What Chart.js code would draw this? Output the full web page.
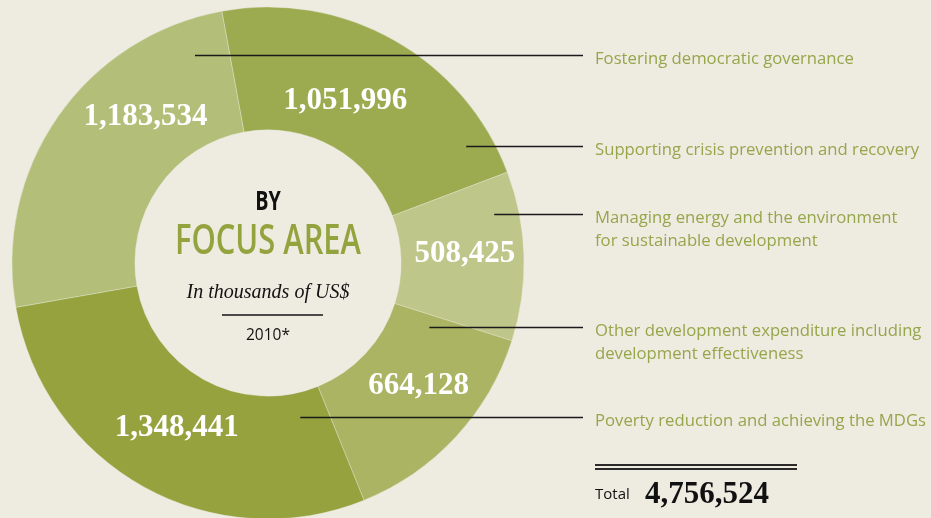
<!DOCTYPE html>
<html>
<head>
<meta charset="utf-8">
<script src="https://cdn.jsdelivr.net/npm/chart.js@4.4.0/dist/chart.umd.min.js"></script>
<style>
  html, body { margin: 0; padding: 0; background: #eeebe1; overflow: hidden; }
  #wrap { position: relative; width: 931px; height: 518px; overflow: hidden; }
  canvas { position: absolute; left: 0; top: 0; }
  .cat { position: absolute; left: 595px; color: #96a64b; font: 16.7px "Open Sans"; line-height: 23.5px; white-space: pre; }
  .center { position: absolute; left: 0; width: 536px; text-align: center; white-space: nowrap; }
  #by { top: 183px; font: 700 27px/34px "Open Sans"; color: #111; transform: scaleX(0.73); }
  #focus { top: 212px; font: 600 42px/52px "Open Sans"; color: #93a33d; transform: scaleX(0.735); }
  #unit { top: 278px; font: italic 20px/26px "Liberation Serif"; color: #111; }
  #rule { position: absolute; left: 222px; top: 314px; width: 101px; height: 2px; background: #4a4a48; }
  #year { top: 324px; font: 15.5px/20px "Open Sans"; color: #111; }
  .dbl { position: absolute; left: 595px; width: 202px; height: 1.6px; background: #2a2a2a; }
  #totlab { position: absolute; left: 595px; top: 482px; font: 15px/22px "Open Sans"; color: #111; }
  #totval { position: absolute; left: 645px; top: 475px; font: 700 31px/36px "Liberation Serif"; color: #111; }
</style>
</head>
<body>
<div id="wrap">
  <canvas id="chart" width="931" height="520"></canvas>
  <div id="by" class="center">BY</div>
  <div id="focus" class="center">FOCUS AREA</div>
  <div id="unit" class="center">In thousands of US$</div>
  <div id="rule"></div>
  <div id="year" class="center">2010*</div>
  <div class="dbl" style="top:464px"></div>
  <div class="dbl" style="top:468px"></div>
  <div id="totlab">Total</div>
  <div id="totval"></div>
</div>
<script>
// clockwise from the top
const categories = [
  "Supporting crisis prevention and recovery",
  "Managing energy and the environment\nfor sustainable development",
  "Other development expenditure including\ndevelopment effectiveness",
  "Poverty reduction and achieving the MDGs",
  "Fostering democratic governance"
];
const values = [1051996, 508425, 664128, 1348441, 1183534];
const colors = ["#9dab50", "#bec689", "#aab462", "#95a23e", "#b3be78"];

// where things sit inside each slice: [fraction along the arc, fraction across the ring]
const valueSpot = [[0.45, 0.38], [0.47, 0.52], [0.43, 0.50], [0.50, 0.45], [0.67, 0.47]];
const leaderSpot = [[0.877, 0.79], [0.223, 0.80], [0.08, 0.33], [0.10, 0.20], [0.90, 0.71]];
const leaderEnd = 583;

const fmt = v => v.toLocaleString("en-US");
const total = values.reduce((a, b) => a + b, 0);
document.getElementById("totval").textContent = fmt(total);

const labelDivs = categories.map(c => {
  const d = document.createElement("div");
  d.className = "cat";
  d.textContent = c;
  document.getElementById("wrap").appendChild(d);
  return d;
});

function spot(arc, s) {
  const p = arc.getProps(["x", "y", "startAngle", "endAngle", "innerRadius", "outerRadius"], true);
  const a = p.startAngle + s[0] * (p.endAngle - p.startAngle);
  const r = p.innerRadius + s[1] * (p.outerRadius - p.innerRadius);
  return { x: p.x + Math.cos(a) * r, y: p.y + Math.sin(a) * r };
}

const labelsPlugin = {
  id: "labels",
  afterDatasetsDraw(chart) {
    const ctx = chart.ctx;
    const arcs = chart.getDatasetMeta(0).data;
    ctx.save();
    ctx.fillStyle = "#ffffff";
    ctx.font = "bold 31px 'Liberation Serif'";
    ctx.textAlign = "center";
    ctx.textBaseline = "middle";
    arcs.forEach((arc, i) => {
      const p = spot(arc, valueSpot[i]);
      ctx.fillText(fmt(values[i]), p.x, p.y);
    });
    ctx.strokeStyle = "#1a1a1a";
    ctx.lineWidth = 1.4;
    arcs.forEach((arc, i) => {
      const p = spot(arc, leaderSpot[i]);
      const y = Math.round(p.y) + 0.5;
      ctx.beginPath();
      ctx.moveTo(p.x, y);
      ctx.lineTo(leaderEnd, y);
      ctx.stroke();
      labelDivs[i].style.top = (y - 11.75 + 2) + "px";
    });
    ctx.restore();
  }
};

new Chart(document.getElementById("chart"), {
  type: "doughnut",
  data: {
    labels: categories,
    datasets: [{
      data: values,
      backgroundColor: colors,
      borderColor: "rgba(238,235,225,0.35)",
      borderWidth: 1,
      hoverOffset: 0
    }]
  },
  options: {
    responsive: false,
    animation: false,
    rotation: -10.4,
    cutout: "52%",
    radius: 256,
    layout: { padding: { left: 12, top: 7, right: 407, bottom: 1 } },
    plugins: { legend: { display: false }, tooltip: { enabled: false } },
    events: []
  },
  plugins: [labelsPlugin]
});
</script>
</body>
</html>
